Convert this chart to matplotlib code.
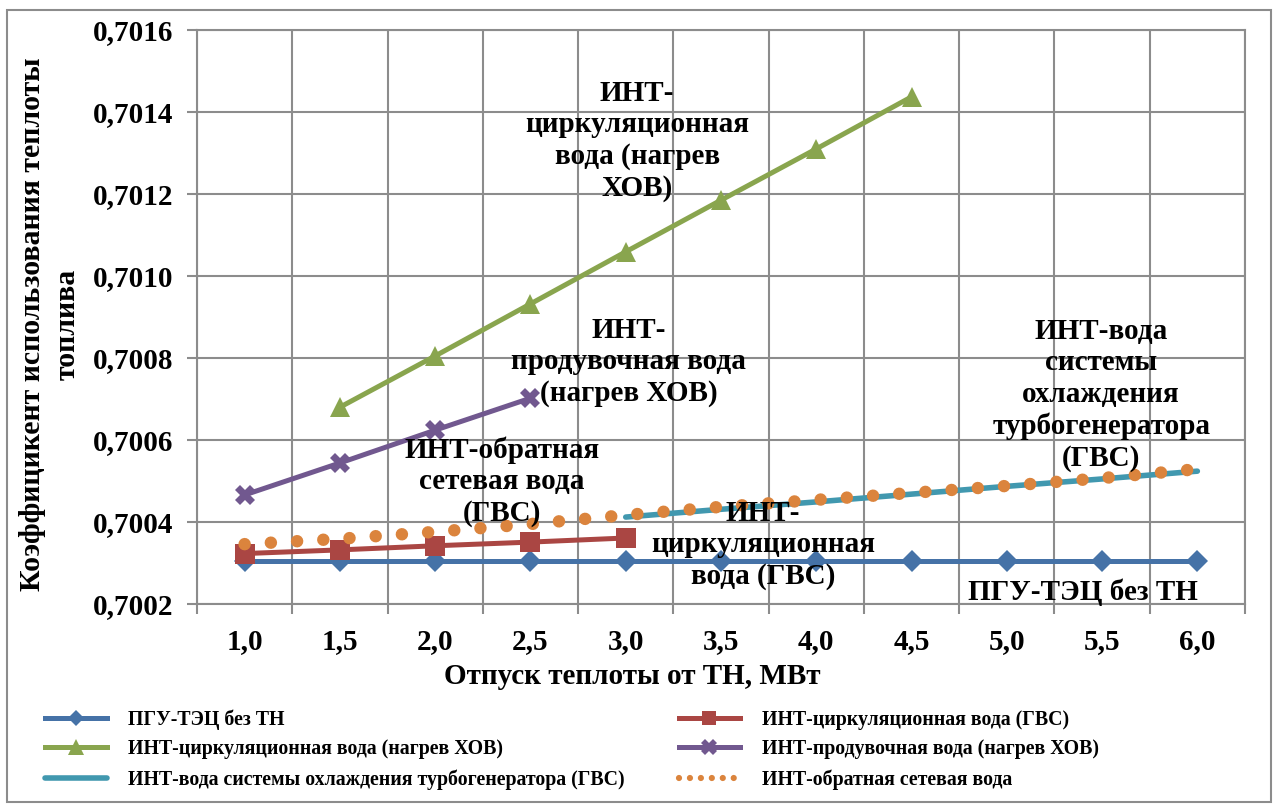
import matplotlib
matplotlib.use('Agg')
import matplotlib.pyplot as plt
import numpy as np
from matplotlib.ticker import FixedLocator, FuncFormatter
from matplotlib.patches import Rectangle
from matplotlib.lines import Line2D

plt.rcParams['font.family'] = ['Liberation Serif', 'DejaVu Serif']
plt.rcParams['font.weight'] = 'bold'

# heat output of the heat pump, MW (category axis)
labels = ['1,0', '1,5', '2,0', '2,5', '3,0', '3,5', '4,0', '4,5', '5,0', '5,5', '6,0']

pgu_no_hp = [0.700305] * 11
circ_gvs = [0.700323, 0.700332, 0.700342, 0.700351, 0.700361]
circ_hov = [0.700680, 0.700805, 0.700932, 0.701059, 0.701185, 0.701310, 0.701437]
purge_hov = [0.700466, 0.700544, 0.700624, 0.700702]
tg_cooling = [0.700412, 0.700431, 0.700449, 0.700468, 0.700487, 0.700505, 0.700524]
return_water = [0.700346, 0.700359, 0.700376, 0.700395, 0.700417, 0.700437,
                0.700454, 0.700471, 0.700488, 0.700507, 0.700529]

x = np.arange(len(labels))

W, H = 1274, 805
fig = plt.figure(figsize=(W / 100, H / 100), dpi=100)
ax = fig.add_axes([197 / W, 1 - 604 / H, (1245 - 197) / W, (604 - 30) / H])

# chart outer frame
fig.patches.append(Rectangle((7 / W, 3 / H), 1264 / W, 792 / H, transform=fig.transFigure,
                             fill=False, edgecolor='#8c8c8c', linewidth=1.5))

lw = 3.6
l1, = ax.plot(x, pgu_no_hp, color='#4572A7', lw=lw, marker='D', ms=11, mew=0,
              label='ПГУ-ТЭЦ без ТН')
l2, = ax.plot(x[:5], circ_gvs, color='#AA4643', lw=lw, marker='s', ms=14, mew=0,
              label='ИНТ-циркуляционная вода (ГВС)')
l3, = ax.plot(x[1:8], circ_hov, color='#89A54E', lw=lw, marker='^', ms=15, mew=0,
              label='ИНТ-циркуляционная вода (нагрев ХОВ)')
l4, = ax.plot(x[:4], purge_hov, color='#71588F', lw=lw, marker='X', ms=15, mew=0,
              label='ИНТ-продувочная вода (нагрев ХОВ)')
l5, = ax.plot(x[4:], tg_cooling, color='#4198AF', lw=lw + 0.4, solid_capstyle='round',
              label='ИНТ-вода системы охлаждения турбогенератора (ГВС)')
l6, = ax.plot(x, return_water, color='#DB843D', lw=9, linestyle=(0, (0.001, 2.1)),
              dash_capstyle='round', label='ИНТ-обратная сетевая вода')

ax.set_xlim(-0.5, len(labels) - 0.5)
ax.set_ylim(0.7002, 0.7016)
ax.set_xticks(x)
ax.set_xticklabels(labels)
ax.xaxis.set_minor_locator(FixedLocator(np.arange(-0.5, len(labels), 1)))
ax.set_yticks(np.arange(0.7002, 0.70161, 0.0002))
ax.yaxis.set_major_formatter(FuncFormatter(lambda v, p: ('%.4f' % v).replace('.', ',')))

ax.grid(True, which='minor', axis='x', color='#8c8c8c', lw=1.5)
ax.grid(True, which='major', axis='y', color='#8c8c8c', lw=1.5)
ax.set_axisbelow(True)
ax.tick_params(axis='x', which='major', length=0, pad=17, labelsize=21)
ax.tick_params(axis='x', which='minor', length=7, width=1.5, color='#8c8c8c')
ax.tick_params(axis='y', length=7, width=1.5, color='#8c8c8c', pad=10, labelsize=21)
for s in ax.spines.values():
    s.set_color('#8c8c8c')
    s.set_linewidth(1.5)

fig.text(632 / W, 1 - 676 / H, 'Отпуск теплоты от ТН, МВт', ha='center', va='center',
         fontsize=21, fontweight='bold')
fig.text(50 / W, 1 - 324 / H, 'Коэффицикент использования теплоты\nтоплива',
         rotation=90, ha='center', va='center', multialignment='center',
         fontsize=21.5, fontweight='bold', linespacing=1.35)

# series labels inside the plot
lab = dict(ha='center', va='center', fontsize=21, fontweight='bold', linespacing=1.22)
ax.text(4.12, 0.701329, 'ИНТ-\nциркуляционная\nвода (нагрев\nХОВ)', **lab)
ax.text(4.03, 0.700790, 'ИНТ-\nпродувочная вода\n(нагрев ХОВ)', **lab)
ax.text(2.70, 0.700498, 'ИНТ-обратная\nсетевая вода\n(ГВС)', **lab)
ax.text(5.44, 0.700344, 'ИНТ-\nциркуляционная\nвода (ГВС)', **lab)
ax.text(8.99, 0.700710, 'ИНТ-вода\nсистемы\nохлаждения\nтурбогенератора\n(ГВС)', **lab)
ax.text(8.80, 0.700229, 'ПГУ-ТЭЦ без ТН', **lab)

# smaller dotted sample for the legend
l6_leg = Line2D([], [], color='#DB843D', lw=4.5, linestyle=(0, (0.001, 1.75)),
                dash_capstyle='round')

# legend is filled column by column, so order the handles to read row by row
handles = [l1, l3, l5, l2, l4, l6_leg]
names = [l1.get_label(), l3.get_label(), l5.get_label(),
         l2.get_label(), l4.get_label(), l6.get_label()]
fig.legend(handles, names, ncol=2,
           loc='upper left', bbox_to_anchor=(45 / W, 1 - 709 / H),
           frameon=False, borderpad=0, borderaxespad=0,
           handlelength=3.1, handletextpad=1.1, columnspacing=2.7,
           labelspacing=0.5, markerscale=0.75,
           prop={'weight': 'bold', 'size': 14.3})

fig.savefig('out.png', dpi=100, facecolor='white')
